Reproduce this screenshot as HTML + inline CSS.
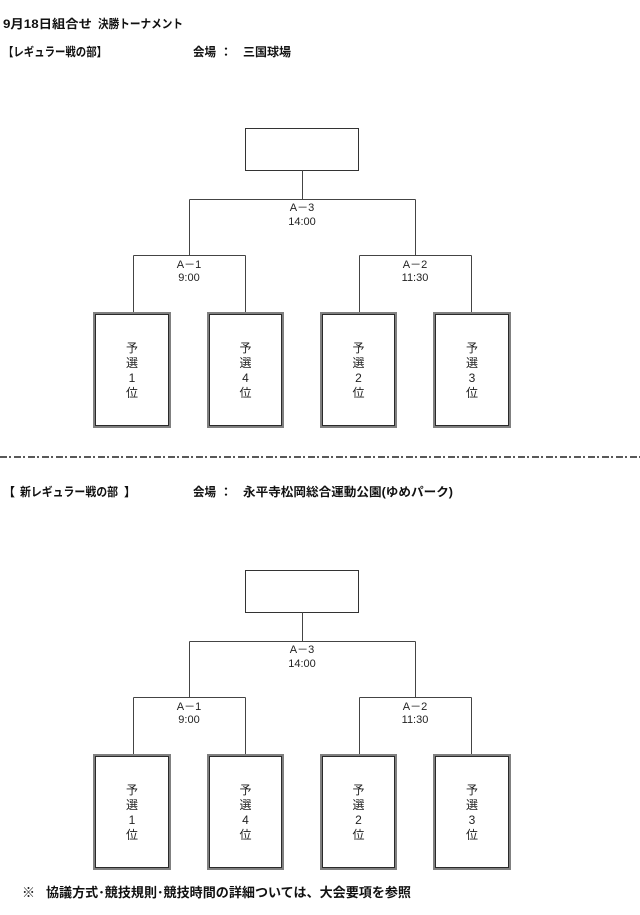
<!DOCTYPE html>
<html>
<head>
<meta charset="utf-8">
<style>
  html,body{margin:0;padding:0;background:#fff;}
  body{width:640px;height:915px;overflow:hidden;}
  svg{display:block;}
  .h{font-family:"Liberation Sans","Noto Sans CJK JP",sans-serif;font-size:12px;font-weight:bold;fill:#111;}
  .f{font-family:"Liberation Sans","Noto Sans CJK JP",sans-serif;font-size:13px;font-weight:bold;fill:#111;}
  .l{font-family:"Liberation Sans","Noto Sans CJK JP",sans-serif;font-size:11px;fill:#222;}
  .b{font-family:"Liberation Sans","Noto Sans CJK JP",sans-serif;font-size:12px;fill:#222;}
  .ln{stroke:#444;stroke-width:1;fill:none;}
  .top{stroke:#333;stroke-width:1;fill:#fff;}
  .so{stroke:#808080;stroke-width:2;fill:#fff;}
  .si{stroke:#2a2a2a;stroke-width:1;fill:none;}
</style>
</head>
<body>
<svg width="640" height="915" viewBox="0 0 640 915" xmlns="http://www.w3.org/2000/svg">
  <!-- Headers -->
  <text class="h" x="3" y="28" textLength="89" lengthAdjust="spacingAndGlyphs">9月18日組合せ</text>
  <text class="h" x="98" y="28" textLength="85" lengthAdjust="spacingAndGlyphs">決勝トーナメント</text>

  <text class="h" x="3" y="56" textLength="104" lengthAdjust="spacingAndGlyphs">【レギュラー戦の部】</text>
  <text class="h" x="193" y="56" textLength="23" lengthAdjust="spacingAndGlyphs">会場</text>
  <text class="h" x="220" y="56">：</text>
  <text class="h" x="243" y="56" textLength="48" lengthAdjust="spacingAndGlyphs">三国球場</text>

  <!-- Section 1 -->
  <g>
    <rect class="top" x="245.5" y="128.5" width="113" height="42"/>
    <line class="ln" x1="302.5" y1="170" x2="302.5" y2="199.5"/>
    <line class="ln" x1="189.5" y1="199.5" x2="415.5" y2="199.5"/>
    <line class="ln" x1="189.5" y1="199.5" x2="189.5" y2="255.5"/>
    <line class="ln" x1="415.5" y1="199.5" x2="415.5" y2="255.5"/>
    <line class="ln" x1="133.5" y1="255.5" x2="245.5" y2="255.5"/>
    <line class="ln" x1="133.5" y1="255.5" x2="133.5" y2="312"/>
    <line class="ln" x1="245.5" y1="255.5" x2="245.5" y2="312"/>
    <line class="ln" x1="359.5" y1="255.5" x2="471.5" y2="255.5"/>
    <line class="ln" x1="359.5" y1="255.5" x2="359.5" y2="312"/>
    <line class="ln" x1="471.5" y1="255.5" x2="471.5" y2="312"/>

    <text class="l" x="302" y="211" text-anchor="middle">A－3</text>
    <text class="l" x="302" y="225" text-anchor="middle">14:00</text>
    <text class="l" x="189" y="268" text-anchor="middle">A－1</text>
    <text class="l" x="189" y="281" text-anchor="middle">9:00</text>
    <text class="l" x="415" y="268" text-anchor="middle">A－2</text>
    <text class="l" x="415" y="281" text-anchor="middle">11:30</text>

    <rect class="so" x="94" y="313" width="76" height="114"/>
    <rect class="si" x="95.5" y="314.5" width="73" height="111"/>
    <rect class="so" x="208" y="313" width="75" height="114"/>
    <rect class="si" x="209.5" y="314.5" width="72" height="111"/>
    <rect class="so" x="321" y="313" width="75" height="114"/>
    <rect class="si" x="322.5" y="314.5" width="72" height="111"/>
    <rect class="so" x="434" y="313" width="76" height="114"/>
    <rect class="si" x="435.5" y="314.5" width="73" height="111"/>

    <g class="b" text-anchor="middle">
      <text x="132" y="352">予</text><text x="132" y="367">選</text><text x="132" y="382">1</text><text x="132" y="397">位</text>
      <text x="245.5" y="352">予</text><text x="245.5" y="367">選</text><text x="245.5" y="382">4</text><text x="245.5" y="397">位</text>
      <text x="358.5" y="352">予</text><text x="358.5" y="367">選</text><text x="358.5" y="382">2</text><text x="358.5" y="397">位</text>
      <text x="472" y="352">予</text><text x="472" y="367">選</text><text x="472" y="382">3</text><text x="472" y="397">位</text>
    </g>
  </g>

  <!-- Dash-dot separator -->
  <line x1="0" y1="457" x2="640" y2="457" stroke="#222" stroke-width="1.5" stroke-dasharray="7 2 2 3"/>

  <!-- Header 2 -->
  <text class="h" x="3" y="496">【</text>
  <text class="h" x="20" y="496" textLength="98" lengthAdjust="spacingAndGlyphs">新レギュラー戦の部</text>
  <text class="h" x="124" y="496">】</text>
  <text class="h" x="193" y="496" textLength="23" lengthAdjust="spacingAndGlyphs">会場</text>
  <text class="h" x="220" y="496">：</text>
  <text class="h" x="243" y="496" textLength="210" lengthAdjust="spacingAndGlyphs">永平寺松岡総合運動公園(ゆめパーク)</text>

  <!-- Section 2 -->
  <g transform="translate(0,442)">
    <rect class="top" x="245.5" y="128.5" width="113" height="42"/>
    <line class="ln" x1="302.5" y1="170" x2="302.5" y2="199.5"/>
    <line class="ln" x1="189.5" y1="199.5" x2="415.5" y2="199.5"/>
    <line class="ln" x1="189.5" y1="199.5" x2="189.5" y2="255.5"/>
    <line class="ln" x1="415.5" y1="199.5" x2="415.5" y2="255.5"/>
    <line class="ln" x1="133.5" y1="255.5" x2="245.5" y2="255.5"/>
    <line class="ln" x1="133.5" y1="255.5" x2="133.5" y2="312"/>
    <line class="ln" x1="245.5" y1="255.5" x2="245.5" y2="312"/>
    <line class="ln" x1="359.5" y1="255.5" x2="471.5" y2="255.5"/>
    <line class="ln" x1="359.5" y1="255.5" x2="359.5" y2="312"/>
    <line class="ln" x1="471.5" y1="255.5" x2="471.5" y2="312"/>

    <text class="l" x="302" y="211" text-anchor="middle">A－3</text>
    <text class="l" x="302" y="225" text-anchor="middle">14:00</text>
    <text class="l" x="189" y="268" text-anchor="middle">A－1</text>
    <text class="l" x="189" y="281" text-anchor="middle">9:00</text>
    <text class="l" x="415" y="268" text-anchor="middle">A－2</text>
    <text class="l" x="415" y="281" text-anchor="middle">11:30</text>

    <rect class="so" x="94" y="313" width="76" height="114"/>
    <rect class="si" x="95.5" y="314.5" width="73" height="111"/>
    <rect class="so" x="208" y="313" width="75" height="114"/>
    <rect class="si" x="209.5" y="314.5" width="72" height="111"/>
    <rect class="so" x="321" y="313" width="75" height="114"/>
    <rect class="si" x="322.5" y="314.5" width="72" height="111"/>
    <rect class="so" x="434" y="313" width="76" height="114"/>
    <rect class="si" x="435.5" y="314.5" width="73" height="111"/>

    <g class="b" text-anchor="middle">
      <text x="132" y="352">予</text><text x="132" y="367">選</text><text x="132" y="382">1</text><text x="132" y="397">位</text>
      <text x="245.5" y="352">予</text><text x="245.5" y="367">選</text><text x="245.5" y="382">4</text><text x="245.5" y="397">位</text>
      <text x="358.5" y="352">予</text><text x="358.5" y="367">選</text><text x="358.5" y="382">2</text><text x="358.5" y="397">位</text>
      <text x="472" y="352">予</text><text x="472" y="367">選</text><text x="472" y="382">3</text><text x="472" y="397">位</text>
    </g>
  </g>

  <!-- Footer -->
  <text class="f" x="22" y="897">※</text>
  <text class="f" x="46" y="897" textLength="365" lengthAdjust="spacingAndGlyphs">協議方式･競技規則･競技時間の詳細ついては、大会要項を参照</text>
</svg>
</body>
</html>
